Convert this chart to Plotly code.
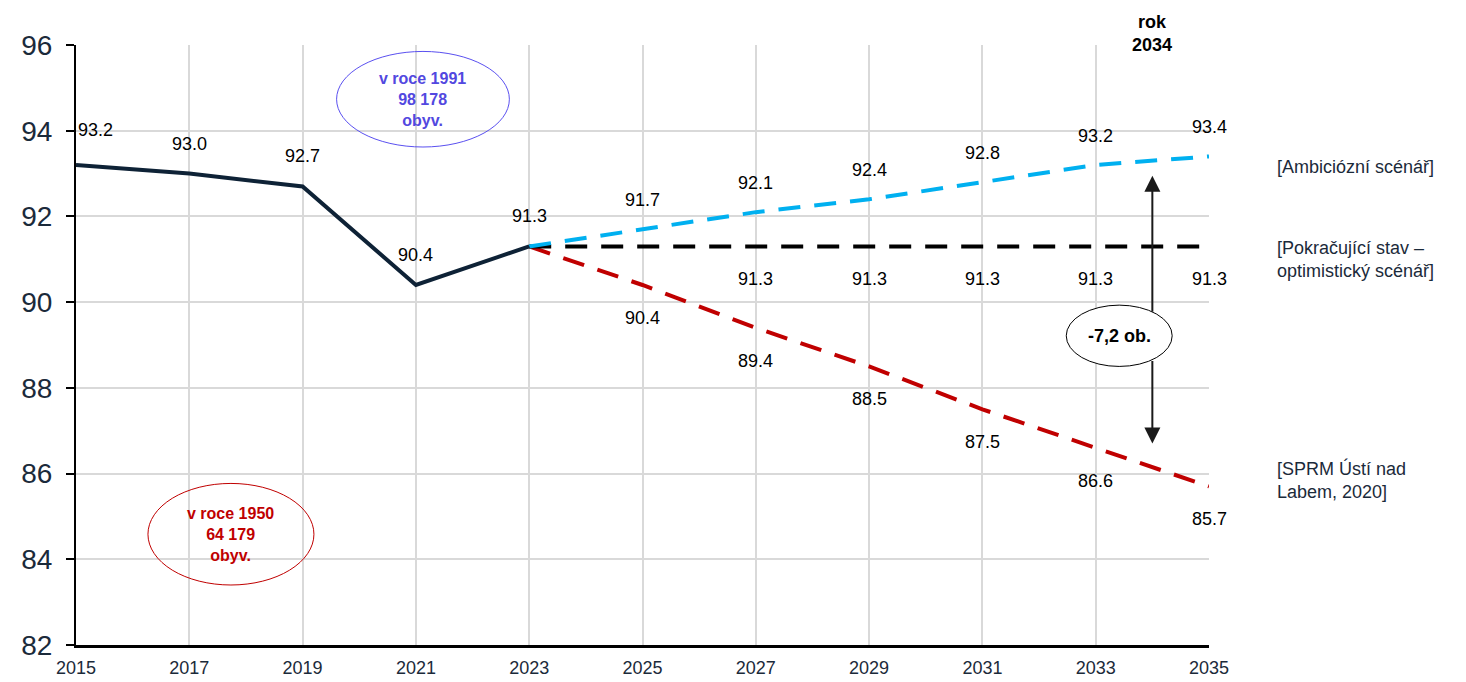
import plotly.graph_objects as go

# data
hist_years = [2015, 2017, 2019, 2021, 2023]
hist_vals = [93.2, 93.0, 92.7, 90.4, 91.3]

proj_years = [2023, 2025, 2027, 2029, 2031, 2033, 2035]
ambit_vals = [91.3, 91.7, 92.1, 92.4, 92.8, 93.2, 93.4]
cont_vals = [91.3, 91.3, 91.3, 91.3, 91.3, 91.3, 91.3]
sprm_vals = [91.3, 90.4, 89.4, 88.5, 87.5, 86.6, 85.7]

x_ticks = list(range(2015, 2036, 2))
y_ticks = list(range(82, 97, 2))

FONT = "Arial, Liberation Sans, sans-serif"
NAVY = "#0e2236"
TXT = "#1b2a3a"

fig = go.Figure()

fig.add_trace(go.Scatter(x=proj_years, y=sprm_vals, mode="lines",
                         line=dict(color="#c00000", width=4, dash="22px,14px")))
fig.add_trace(go.Scatter(x=proj_years, y=cont_vals, mode="lines",
                         line=dict(color="#000000", width=4, dash="22px,14px")))
fig.add_trace(go.Scatter(x=proj_years, y=ambit_vals, mode="lines",
                         line=dict(color="#00b0f0", width=4, dash="22px,14px")))
fig.add_trace(go.Scatter(x=hist_years, y=hist_vals, mode="lines",
                         line=dict(color=NAVY, width=4)))

anns = []


def lab(x, y, shift, xanchor="center"):
    anns.append(dict(x=x, y=y, text=f"{y:.1f}", showarrow=False, yshift=shift,
                     xanchor=xanchor, font=dict(size=18, color="black", family=FONT)))


for i, (x, y) in enumerate(zip(hist_years, hist_vals)):
    if i == 0:
        lab(x, y, 35, "left")
    else:
        lab(x, y, 30)
for x, y in zip(proj_years[1:], ambit_vals[1:]):
    lab(x, y, 29)
for x, y in zip(proj_years[2:], cont_vals[2:]):
    lab(x, y, -33)
for x, y in zip(proj_years[1:], sprm_vals[1:]):
    lab(x, y, -33)

# right-side labels
side = dict(showarrow=False, xref="paper", xanchor="left", align="left",
            font=dict(size=18, color=TXT, family=FONT))
anns.append(dict(x=1.058, y=ambit_vals[-1] - 0.25, text="[Ambiciózní scénář]", **side))
anns.append(dict(x=1.058, y=cont_vals[-1] - 0.3, text="[Pokračující stav –<br>optimistický scénář]", **side))
anns.append(dict(x=1.058, y=sprm_vals[-1] + 0.15, text="[SPRM Ústí nad<br>Labem, 2020]", **side))

# rok 2034
anns.append(dict(x=2034, y=96, yshift=-12, text="<b>rok<br>2034</b>", showarrow=False,
                 yanchor="bottom", font=dict(size=18, color="black", family=FONT)))

# double arrow, split so the ellipse hides its middle
arr = dict(text="", showarrow=True, arrowhead=2, arrowsize=1.6, arrowwidth=2,
           arrowcolor="#1a1a1a", axref="x", ayref="y")
anns.append(dict(x=2034, y=92.95, ax=2034, ay=89.74, **arr))
anns.append(dict(x=2034, y=86.7, ax=2034, ay=88.66, **arr))

fig.add_shape(type="circle", x0=2032.48, x1=2034.35, y0=88.5, y1=89.93,
              line=dict(color="black", width=1), fillcolor="white", layer="above")
anns.append(dict(x=2033.42, y=89.2, text="<b>-7,2 ob.</b>", showarrow=False,
                 font=dict(size=18, color="black", family=FONT)))

# ellipses
fig.add_shape(type="circle", x0=2019.6, x1=2022.65, y0=93.62, y1=95.85,
              line=dict(color="#5a50f0", width=1), layer="above")
anns.append(dict(x=2021.12, y=94.74, text="<b>v roce 1991<br>98 178<br>obyv.</b>",
                 showarrow=False, font=dict(size=16, color="#5248e0", family=FONT)))
fig.add_shape(type="circle", x0=2016.27, x1=2019.2, y0=83.4, y1=85.77,
              line=dict(color="#c00000", width=1), layer="above")
anns.append(dict(x=2017.73, y=84.58, text="<b>v roce 1950<br>64 179<br>obyv.</b>",
                 showarrow=False, font=dict(size=16, color="#c00000", family=FONT)))

# page body has an 8px margin, so the figure is a bit smaller than the window
fig.update_layout(
    width=1458, height=674,
    margin=dict(l=68, r=257, t=37, b=37, autoexpand=False),
    plot_bgcolor="white", paper_bgcolor="white",
    showlegend=False,
    annotations=anns,
    font=dict(family=FONT),
)
fig.update_xaxes(range=[2015, 2035], tickvals=x_ticks, ticktext=[str(t) for t in x_ticks],
                 showgrid=True, gridcolor="#d9d9d9", gridwidth=1.5,
                 showline=True, linecolor="black", linewidth=2.5,
                 tickfont=dict(size=18, color=TXT), ticklabelstandoff=5,
                 zeroline=False, automargin=False)
fig.update_yaxes(range=[82, 96], tickvals=y_ticks,
                 showgrid=True, gridcolor="#d9d9d9", gridwidth=1.5,
                 showline=True, linecolor="black", linewidth=2,
                 ticks="outside", ticklen=8, tickcolor="black", tickwidth=2,
                 tickfont=dict(size=28, color=TXT), ticklabelstandoff=8,
                 zeroline=False, automargin=False)

fig.write_html("out.html")
